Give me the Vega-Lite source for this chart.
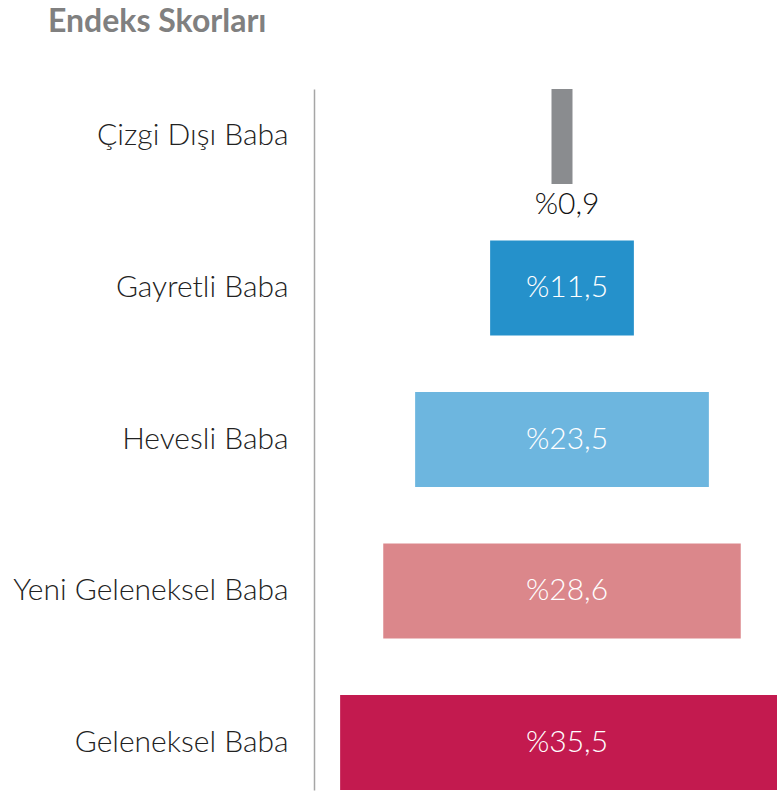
{
  "$schema": "https://vega.github.io/schema/vega-lite/v6.json",
  "autosize": "none",
  "width": 463,
  "height": 701,
  "padding": {"left": 314, "top": 89, "right": 0, "bottom": 1},
  "background": "white",
  "title": {
    "text": "Endeks Skorları",
    "anchor": "start",
    "frame": "group",
    "dx": -266,
    "offset": 50,
    "font": "Lato",
    "fontSize": 32,
    "fontWeight": "bold",
    "color": "#808080"
  },
  "config": {"view": {"stroke": null}},
  "data": {
    "values": [
      {"cat": "Çizgi Dışı Baba", "value": 0.9, "label": "%0,9", "color": "#8a8c8f", "inside": false},
      {"cat": "Gayretli Baba", "value": 11.5, "label": "%11,5", "color": "#2591cb", "inside": true},
      {"cat": "Hevesli Baba", "value": 23.5, "label": "%23,5", "color": "#6db6df", "inside": true},
      {"cat": "Yeni Geleneksel Baba", "value": 28.6, "label": "%28,6", "color": "#db878b", "inside": true},
      {"cat": "Geleneksel Baba", "value": 35.5, "label": "%35,5", "color": "#c31a4f", "inside": true}
    ]
  },
  "transform": [
    {"calculate": "max(datum.value, 1.68)", "as": "w"},
    {"calculate": "-datum.w/2", "as": "lo"},
    {"calculate": "datum.w/2", "as": "hi"}
  ],
  "encoding": {
    "y": {
      "field": "cat",
      "type": "nominal",
      "sort": null,
      "scale": {"paddingInner": 0.373, "paddingOuter": 0},
      "axis": {
        "title": null,
        "ticks": false,
        "domain": true,
        "domainColor": "#a6a6a6",
        "domainWidth": 1.5,
        "labelFont": "Lato",
        "labelFontSize": 30,
        "labelFontWeight": 300,
        "labelColor": "#222222",
        "labelPadding": 26,
        "labelLimit": 400
      }
    }
  },
  "layer": [
    {
      "mark": {"type": "bar", "clip": true},
      "encoding": {
        "x": {"field": "lo", "type": "quantitative", "scale": {"domain": [-19.84, 17.2], "nice": false, "zero": false}, "axis": null},
        "x2": {"field": "hi"},
        "color": {"field": "color", "type": "nominal", "scale": null, "legend": null}
      }
    },
    {
      "transform": [{"filter": "datum.inside"}],
      "mark": {"type": "text", "font": "Lato", "fontSize": 30, "fontWeight": 300, "color": "white", "baseline": "middle", "align": "center", "dx": 5},
      "encoding": {
        "x": {"datum": 0, "type": "quantitative"},
        "text": {"field": "label"}
      }
    },
    {
      "transform": [{"filter": "!datum.inside"}],
      "mark": {"type": "text", "font": "Lato", "fontSize": 30, "fontWeight": 300, "color": "#111111", "baseline": "middle", "align": "center", "dx": 5, "dy": 69},
      "encoding": {
        "x": {"datum": 0, "type": "quantitative"},
        "text": {"field": "label"}
      }
    }
  ]
}
